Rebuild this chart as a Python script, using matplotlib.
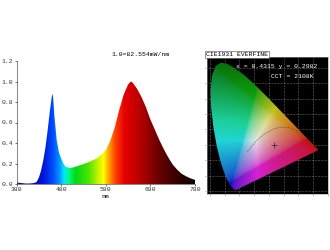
import numpy as np
import matplotlib
matplotlib.use('Agg')
import matplotlib.pyplot as plt
from matplotlib.patches import Polygon
from matplotlib.colors import LinearSegmentedColormap

# ---- spectrum data (relative) ----
wavelengths = [380, 390, 400, 410, 420, 425, 430, 435, 440, 445, 450, 455, 460, 462,
               465, 470, 475, 480, 485, 490, 495, 500, 510, 520, 530, 540, 550, 560,
               570, 580, 590, 600, 610, 620, 630, 636, 640, 650, 660, 670, 680, 690,
               700, 710, 720, 730, 740, 750, 760, 770, 780]
intensity = [0.015, 0.01, 0.005, 0.005, 0.01, 0.02, 0.06, 0.13, 0.23, 0.36, 0.53, 0.72, 0.88, 0.85,
             0.66, 0.43, 0.31, 0.25, 0.20, 0.17, 0.16, 0.155, 0.165, 0.18, 0.195, 0.21, 0.23, 0.25,
             0.285, 0.33, 0.42, 0.55, 0.72, 0.87, 0.97, 1.0, 0.99, 0.93, 0.85, 0.75, 0.63, 0.53,
             0.43, 0.34, 0.26, 0.19, 0.14, 0.10, 0.075, 0.055, 0.04]
x_ticks = [380, 480, 580, 680, 780]
y_ticks = [0.0, 0.2, 0.4, 0.6, 0.8, 1.0, 1.2]
y_tick_labels = ['0.0', '0.2', '0.4', '0.6', '0.8', '1.0', '1.2']
scale_note = '1.0=82.554mW/nm'

# ---- CIE 1931 data ----
locus_x = [0.1741, 0.1733, 0.1714, 0.1689, 0.1644, 0.1566, 0.1440, 0.1355, 0.1241, 0.1096,
           0.0913, 0.0687, 0.0454, 0.0235, 0.0082, 0.0039, 0.0139, 0.0389, 0.0743, 0.1142,
           0.1547, 0.2296, 0.3016, 0.3731, 0.4441, 0.5125, 0.5752, 0.6270, 0.6658, 0.6915,
           0.7079, 0.7190, 0.7260, 0.7300, 0.7334, 0.7347]
locus_y = [0.0050, 0.0048, 0.0051, 0.0069, 0.0109, 0.0177, 0.0297, 0.0399, 0.0578, 0.0868,
           0.1327, 0.2007, 0.2950, 0.4127, 0.5384, 0.6548, 0.7502, 0.8120, 0.8338, 0.8262,
           0.8059, 0.7543, 0.6923, 0.6245, 0.5547, 0.4866, 0.4242, 0.3725, 0.3340, 0.3083,
           0.2920, 0.2809, 0.2740, 0.2700, 0.2666, 0.2653]
planck_x = [0.2528, 0.2807, 0.3135, 0.3451, 0.3805, 0.4369, 0.4770, 0.5267, 0.5857, 0.6528]
planck_y = [0.2522, 0.2883, 0.3237, 0.3516, 0.3768, 0.4041, 0.4137, 0.4133, 0.3931, 0.3444]
point_x = 0.4315
point_y = 0.2982
cct = 2108
cie_title = 'CIE1931 EVERFINE'

mono = ['Liberation Mono', 'DejaVu Sans Mono']
fs = 4.6

fig = plt.figure(figsize=(3.3, 2.5), dpi=100)

# ---------------- spectrum panel ----------------
ax = fig.add_axes([16.5 / 330, 1 - 184 / 250, (195 - 16.5) / 330, (184 - 61) / 250])
ax.set_xlim(380, 780)
ax.set_ylim(0, 1.2)

stops = [(380, (0.2, 0.0, 0.6)), (420, (0.05, 0.0, 0.8)), (440, (0.0, 0.1, 0.85)),
         (460, (0.0, 0.3, 1.0)), (475, (0.0, 0.6, 1.0)), (485, (0.0, 0.9, 1.0)),
         (495, (0.0, 1.0, 0.5)), (510, (0.0, 0.85, 0.1)), (540, (0.3, 0.9, 0.0)),
         (560, (0.75, 0.95, 0.0)), (573, (1.0, 1.0, 0.0)), (585, (1.0, 0.65, 0.0)),
         (600, (1.0, 0.25, 0.0)), (620, (0.9, 0.0, 0.0)), (650, (0.75, 0.0, 0.0)),
         (700, (0.4, 0.0, 0.0)), (740, (0.2, 0.0, 0.0)), (780, (0.06, 0.0, 0.0))]
cmap = LinearSegmentedColormap.from_list(
    'spec', [((w - 380) / 400, c) for w, c in stops])
grad = np.linspace(0, 1, 800).reshape(1, -1)
im = ax.imshow(grad, cmap=cmap, extent=[380, 780, 0, 1.2], aspect='auto',
               origin='lower', zorder=1)
verts = [(wavelengths[0], 0)] + list(zip(wavelengths, intensity)) + [(wavelengths[-1], 0)]
poly = Polygon(verts, closed=True, facecolor='none', edgecolor='none')
ax.add_patch(poly)
im.set_clip_path(poly)

ax.set_xticks(x_ticks)
ax.set_xticklabels([str(t) for t in x_ticks])
ax.set_yticks(y_ticks)
ax.set_yticklabels(y_tick_labels)
for lab in ax.get_xticklabels() + ax.get_yticklabels():
    lab.set_fontfamily(mono)
    lab.set_fontsize(fs)
ax.tick_params(length=1.5, width=0.5, pad=1, colors='#333333')
for s in ['top', 'right']:
    ax.spines[s].set_visible(False)
for s in ['left', 'bottom']:
    ax.spines[s].set_linewidth(0.5)
    ax.spines[s].set_color('#555555')
ax.set_xlabel('nm', fontfamily=mono, fontsize=fs, labelpad=1)
ax.text(657, 1.26, scale_note, fontfamily=mono, fontsize=fs, ha='center', va='center')

# ---------------- CIE panel ----------------
cx = fig.add_axes([207 / 330, 1 - 194 / 250, (328 - 207) / 330, (194 - 57) / 250])
cx.set_facecolor('black')
cx.set_xlim(-0.02, 0.8)
cx.set_ylim(-0.02, 0.87)

nx, ny = 300, 330
gx = np.linspace(-0.02, 0.8, nx)
gy = np.linspace(-0.02, 0.87, ny)
X, Y = np.meshgrid(gx, gy)
Yc = np.clip(Y, 1e-3, None)
XX = X / Yc
ZZ = (1 - X - Y) / Yc
R = 3.2406 * XX - 1.5372 - 0.4986 * ZZ
G = -0.9689 * XX + 1.8758 + 0.0415 * ZZ
B = 0.0557 * XX - 0.2040 + 1.0570 * ZZ
rgb = np.stack([R, G, B], axis=-1)
rgb = np.clip(rgb, 0, None)
rgb = rgb / np.clip(rgb.max(axis=-1, keepdims=True), 1e-6, None)
rgb = rgb ** (1 / 2.2)
grey = rgb.mean(axis=-1, keepdims=True)
rgb = 0.78 * rgb + 0.22 * grey
dark = 1 - 0.45 * np.clip((Y - 0.45) / 0.4, 0, 1)
rgb = rgb * 0.9 * dark[..., None]
cim = cx.imshow(np.clip(rgb, 0, 1), extent=[-0.02, 0.8, -0.02, 0.87], origin='lower',
                aspect='auto', zorder=1, interpolation='bilinear')
lverts = list(zip(locus_x, locus_y))
lpoly = Polygon(lverts, closed=True, facecolor='none', edgecolor='none')
cx.add_patch(lpoly)
cim.set_clip_path(lpoly)

cx.set_xticks(np.arange(0, 0.81, 0.1))
cx.set_yticks(np.arange(0, 0.86, 0.1))
cx.grid(True, color='#bbbbbb', linestyle=':', linewidth=0.4, zorder=0.5)
cx.set_axisbelow(True)
cx.tick_params(labelbottom=False, labelleft=False, length=1.5, width=0.4,
               colors='#888888', direction='out')
for s in cx.spines.values():
    s.set_color('#999999')
    s.set_linewidth(0.4)

cx.plot(planck_x, planck_y, color='#555555', linestyle='--', linewidth=0.4, zorder=3)
cx.plot([point_x], [point_y], marker='+', color='#222222', markersize=5,
        markeredgewidth=0.5, zorder=4)
cx.text(0.45, 0.81, f'x = {point_x:.4f} y = {point_y:.4f}', color='white',
        fontfamily=mono, fontsize=fs, ha='center', va='center', zorder=5)
cx.text(0.56, 0.745, f'CCT = {cct}K', color='white', fontfamily=mono,
        fontsize=fs, ha='center', va='center', zorder=5)
fig.text(206 / 330, 1 - 54.5 / 250, cie_title, fontfamily=mono, fontsize=fs,
         ha='left', va='center', color='black',
         bbox=dict(facecolor='white', edgecolor='#444444', linewidth=0.4, pad=0.6))

fig.savefig('out.png', dpi=100)
